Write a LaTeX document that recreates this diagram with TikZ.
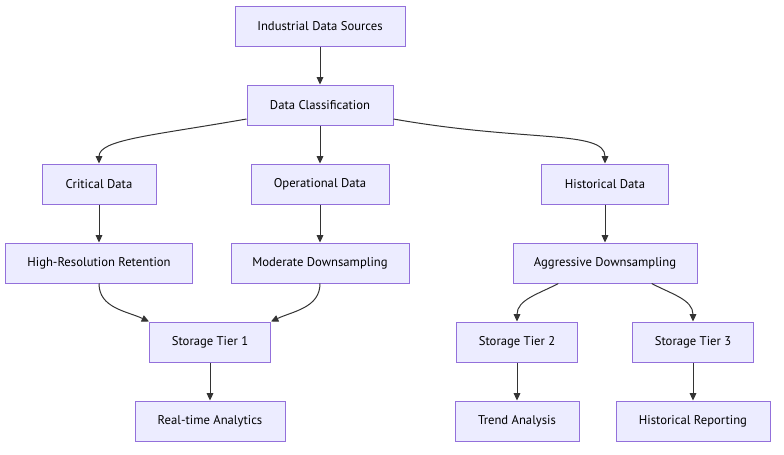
\documentclass[tikz,border=0pt]{standalone}
\usepackage{fontspec}
\setmainfont{PT Sans}
\usetikzlibrary{arrows.meta}
\definecolor{boxfill}{HTML}{ECECFF}
\definecolor{boxline}{HTML}{9370DB}
\definecolor{linkgrey}{HTML}{333333}
\tikzset{
  box/.style={draw=boxline, fill=boxfill, line width=0.75pt, minimum height=30pt, inner sep=2pt, font=\fontsize{9.5}{11}\selectfont},
  link/.style={draw=linkgrey, line width=0.75pt, -{Triangle[length=5.5pt,width=5pt]}}
}
\begin{document}
\begin{tikzpicture}[x=0.75pt,y=0.75pt]
\path (0,0) rectangle (784,-454);
\node[box, minimum width=127.5pt] (sources) at (320,-26) {Industrial Data Sources};
\node[box, minimum width=109.5pt] (classif) at (320,-105) {Data Classification};
\node[box, minimum width=85.5pt] (critical) at (99,-184) {Critical Data};
\node[box, minimum width=103.5pt] (operational) at (320,-184) {Operational Data};
\node[box, minimum width=95.25pt] (historical) at (605,-184) {Historical Data};
\node[box, minimum width=140.25pt] (hires) at (99,-263) {High-Resolution Retention};
\node[box, minimum width=133.5pt] (moderate) at (320,-263) {Moderate Downsampling};
\node[box, minimum width=138pt] (aggressive) at (605,-263) {Aggressive Downsampling};
\node[box, minimum width=90.75pt] (tier1) at (210,-342) {Storage Tier 1};
\node[box, minimum width=90.75pt] (tier2) at (517,-342) {Storage Tier 2};
\node[box, minimum width=90.75pt] (tier3) at (693,-342) {Storage Tier 3};
\node[box, minimum width=112.5pt] (realtime) at (210,-421) {Real-time Analytics};
\node[box, minimum width=93pt] (trend) at (517,-421) {Trend Analysis};
\node[box, minimum width=115.5pt] (reporting) at (693,-421) {Historical Reporting};
\draw[link] (sources) -- (classif);
\draw[link] ([yshift=-10.5pt]classif.west) to[out=190,in=90,out looseness=1.6,in looseness=0.4] (critical.north);
\draw[link] (classif) -- (operational);
\draw[link] ([yshift=-10.5pt]classif.east) to[out=-10,in=90,out looseness=1.6,in looseness=0.4] (historical.north);
\draw[link] (critical) -- (hires);
\draw[link] (operational) -- (moderate);
\draw[link] (historical) -- (aggressive);
\draw[link] (hires.south) to[out=-90,in=155] (tier1.north west);
\draw[link] (moderate.south) to[out=-90,in=25] (tier1.north east);
\draw[link] ([xshift=-35pt]aggressive.south) to[out=208,in=90] (tier2.north);
\draw[link] ([xshift=35pt]aggressive.south) to[out=-28,in=90] (tier3.north);
\draw[link] (tier1) -- (realtime);
\draw[link] (tier2) -- (trend);
\draw[link] (tier3) -- (reporting);
\end{tikzpicture}
\end{document}
